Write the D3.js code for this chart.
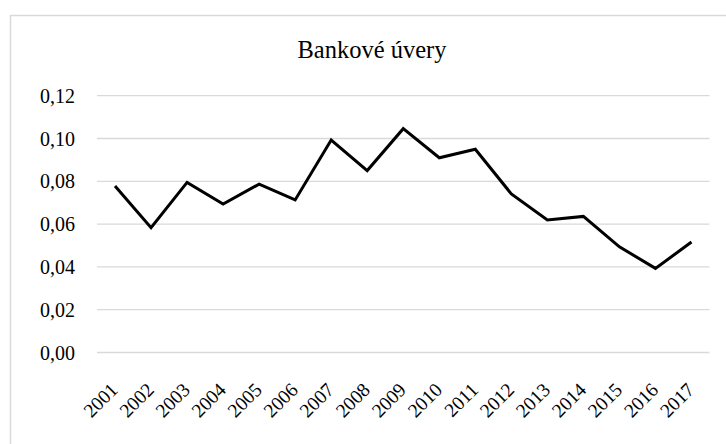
<!DOCTYPE html>
<html>
<head>
<meta charset="utf-8">
<script src="https://cdn.jsdelivr.net/npm/d3@7"></script>
<style>
  html, body { margin: 0; padding: 0; background: #fff; }
  svg { display: block; font-family: "Liberation Serif", "Times New Roman", serif; }
</style>
</head>
<body>
<svg id="chart" width="726" height="444"></svg>
<script>
// data
const years = ["2001","2002","2003","2004","2005","2006","2007","2008","2009",
               "2010","2011","2012","2013","2014","2015","2016","2017"];
const values = [0.0778, 0.0583, 0.0795, 0.0694, 0.0787, 0.0713, 0.0993, 0.0850, 0.1046,
                0.0910, 0.0950, 0.0741, 0.0619, 0.0636, 0.0494, 0.0393, 0.0516];
const yTicks = [0, 0.02, 0.04, 0.06, 0.08, 0.10, 0.12];
const title = "Bankové úvery";

const svg = d3.select("#chart");

// outer chart frame (runs off the right and bottom edge)
svg.append("rect")
  .attr("x", 10.5).attr("y", 15.5)
  .attr("width", 800).attr("height", 500)
  .attr("fill", "#fff")
  .attr("stroke", "#d9d9d9")
  .attr("stroke-width", 1.5);

const x = d3.scaleBand().domain(years).range([97, 709.5]);
const y = d3.scaleLinear().domain([0, 0.12]).range([352.5, 95.7]);

const fmt = d => d3.format(".2f")(d).replace(".", ",");

// gridlines
svg.append("g")
  .selectAll("line")
  .data(yTicks)
  .join("line")
  .attr("x1", 97).attr("x2", 709.5)
  .attr("y1", d => y(d)).attr("y2", d => y(d))
  .attr("stroke", "#d9d9d9")
  .attr("stroke-width", 1.3);

// y labels
svg.append("g")
  .selectAll("text")
  .data(yTicks)
  .join("text")
  .attr("x", 75)
  .attr("y", d => y(d))
  .attr("dy", "0.35em")
  .attr("text-anchor", "end")
  .attr("font-size", 20)
  .attr("fill", "#000")
  .text(fmt);

// x labels, rotated
svg.append("g")
  .selectAll("text")
  .data(years)
  .join("text")
  .attr("text-anchor", "end")
  .attr("font-size", 19.5)
  .attr("fill", "#000")
  .attr("transform", d => `translate(${x(d) + x.bandwidth() / 2 + 4},${391}) rotate(-45)`)
  .text(d => d);

// line
const line = d3.line()
  .x((d, i) => x(years[i]) + x.bandwidth() / 2)
  .y(d => y(d));

svg.append("path")
  .datum(values)
  .attr("fill", "none")
  .attr("stroke", "#000")
  .attr("stroke-width", 3)
  .attr("stroke-linejoin", "miter")
  .attr("d", line);

// title
svg.append("text")
  .attr("x", 372)
  .attr("y", 58.3)
  .attr("text-anchor", "middle")
  .attr("font-size", 24.5)
  .attr("fill", "#000")
  .text(title);
</script>
</body>
</html>
